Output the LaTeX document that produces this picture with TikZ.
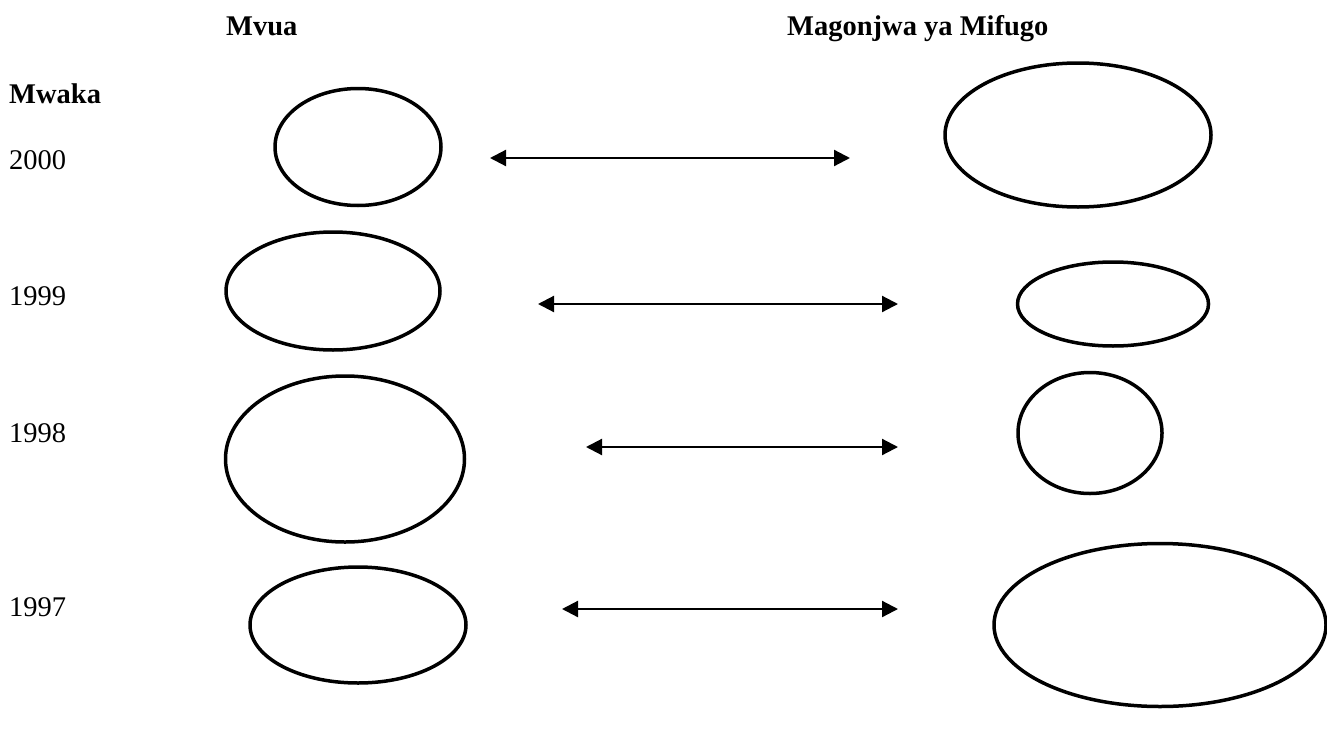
\documentclass[tikz,border=0pt]{standalone}
\usepackage{fontspec}
\setmainfont{Liberation Serif}
\usetikzlibrary{shapes.geometric,arrows.meta}
\tikzset{
  oval/.style={ellipse, draw, line width=3.5pt, inner sep=0pt},
  link/.style={line width=2.2pt, {Triangle[length=16pt,width=16pt]}-{Triangle[length=16pt,width=16pt]}},
  lbl/.style={anchor=base west, inner sep=0pt, font=\fontsize{28.5}{34}\selectfont},
  head/.style={anchor=base west, inner sep=0pt, font=\fontsize{28.5}{34}\selectfont\bfseries}
}
\begin{document}
\begin{tikzpicture}[x=1pt,y=-1pt]
\useasboundingbox (0,0) rectangle (1327,736);
% headings
\node[head] (hmvua) at (226,35) {Mvua};
\node[head] (hmag) at (787,35) {Magonjwa ya Mifugo};
\node[head] (hmwaka) at (9,103) {Mwaka};
% years
\node[lbl] (y2000) at (9,169) {2000};
\node[lbl] (y1999) at (9,305) {1999};
\node[lbl] (y1998) at (9,442) {1998};
\node[lbl] (y1997) at (9,616) {1997};
% left ovals
\node[oval, minimum width=166pt, minimum height=117pt] (l2000) at (358,147) {};
\node[oval, minimum width=214pt, minimum height=118pt] (l1999) at (333,291) {};
\node[oval, minimum width=239pt, minimum height=166pt] (l1998) at (345,459) {};
\node[oval, minimum width=216pt, minimum height=116pt] (l1997) at (358,625) {};
% right ovals
\node[oval, minimum width=266pt, minimum height=144pt] (r2000) at (1078,135) {};
\node[oval, minimum width=191pt, minimum height=84pt] (r1999) at (1113,304) {};
\node[oval, minimum width=144pt, minimum height=121pt] (r1998) at (1090,433) {};
\node[oval, minimum width=332pt, minimum height=163pt] (r1997) at (1160,625) {};
% arrow ends
\coordinate (a1) at (490,158); \coordinate (b1) at (850,158);
\coordinate (a2) at (538,304); \coordinate (b2) at (898,304);
\coordinate (a3) at (586,447); \coordinate (b3) at (898,447);
\coordinate (a4) at (562,609); \coordinate (b4) at (898,609);
\draw[link] (a1) -- (b1);
\draw[link] (a2) -- (b2);
\draw[link] (a3) -- (b3);
\draw[link] (a4) -- (b4);
\end{tikzpicture}
\end{document}
